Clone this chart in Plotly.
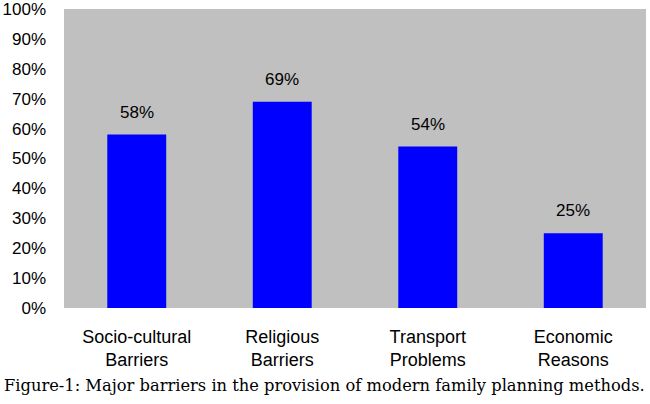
import plotly.graph_objects as go

# datos del grafico
categorias = ["Socio-cultural<br>Barriers", "Religious<br>Barriers",
              "Transport<br>Problems", "Economic<br>Reasons"]
valores = [58, 69, 54, 25]
etiquetas = ["58%", "69%", "54%", "25%"]
ticks_y = [0, 10, 20, 30, 40, 50, 60, 70, 80, 90, 100]

fig = go.Figure(data=go.Bar(x=categorias, y=valores,
                            marker=dict(color="#0000FF", line=dict(width=0)),
                            hoverinfo="skip"))

# etiquetas de valor encima de las barras
for c, v, t in zip(categorias, valores, etiquetas):
    fig.add_annotation(x=c, y=v, text=t, showarrow=False, yanchor="bottom",
                       yshift=11, font=dict(family="Liberation Sans", size=17, color="black"))

fig.add_annotation(text="Figure-1: Major barriers in the provision of modern family planning methods.",
                   xref="paper", yref="paper", x=-0.107, y=-0.26, xanchor="left", yanchor="middle",
                   showarrow=False,
                   font=dict(family="DejaVu Serif", size=16.3, color="black"))

fig.update_layout(
    width=650, height=404,
    margin=dict(l=64, r=4, t=9, b=96),
    paper_bgcolor="white", plot_bgcolor="#C0C0C0",
    bargap=0.595, showlegend=False,
    font=dict(family="Liberation Sans", size=17, color="black"),
    xaxis=dict(showgrid=False, ticks="", automargin=False, ticklabelstandoff=16,
               tickfont=dict(size=18)),
    yaxis=dict(range=[0, 100], tickvals=ticks_y, ticktext=[f"{t}%" for t in ticks_y],
               showgrid=False, zeroline=False, ticks="", automargin=False,
               ticklabelstandoff=17, ticklabeloverflow="allow", tickfont=dict(size=17)),
)

# quitar el margen del body para que la figura quede en la esquina
fig.write_html("out.html", config={"displayModeBar": False},
               post_script="document.body.style.margin='0px';")
